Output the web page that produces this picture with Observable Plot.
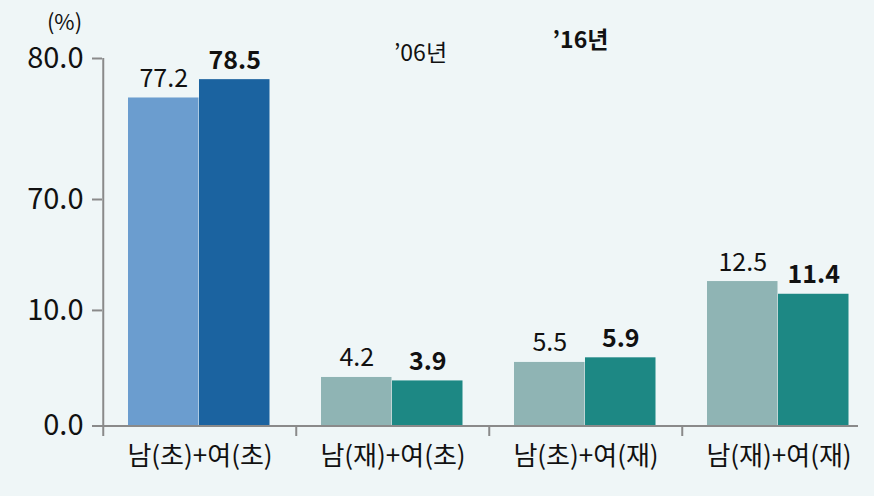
<!DOCTYPE html>
<html><head><meta charset="utf-8">
<script src="https://cdn.jsdelivr.net/npm/d3@7"></script>
<script src="https://cdn.jsdelivr.net/npm/@observablehq/plot@0.6"></script>
<style>
html,body{margin:0;padding:0;background:#eff6f7;}
#chart svg{display:block;}
</style></head><body><div id="chart"></div>
<script>
const categories = ["남(초)+여(초)", "남(재)+여(초)", "남(초)+여(재)", "남(재)+여(재)"];
const years = ["’06년", "’16년"];
const values06 = [77.2, 4.2, 5.5, 12.5];
const values16 = [78.5, 3.9, 5.9, 11.4];
const yTicks = [0, 10, 70, 80];
const unitLabel = "(%)";

const rows06 = categories.map((c, i) => ({category: c, year: years[0], value: values06[i]}));
const rows16 = categories.map((c, i) => ({category: c, year: years[1], value: values16[i]}));

const FONT = "'Noto Sans CJK KR', 'Noto Sans', sans-serif";
const AXIS = "#8a8a8a";
const isFirst = d => d.category === categories[0];
const fill06 = d => isFirst(d) ? "#6b9dcf" : "#8fb4b4";
const fill16 = d => isFirst(d) ? "#1b63a0" : "#1d8884";

const chart = Plot.plot({
  width: 874, height: 496,
  marginTop: 57, marginBottom: 70, marginLeft: 102, marginRight: 16,
  style: {background: "#eff6f7", fontFamily: FONT, color: "#111", overflow: "visible"},
  x: {type: "band", domain: categories, range: [102, 876], padding: 0, label: null},
  y: {type: "linear", domain: [0, 19.6, 70, 80], range: [425.5, 199, 199, 58], label: null},
  color: {type: "identity"},
  marks: [
    Plot.barY(rows06, {x: "category", y: "value", fill: fill06, insetLeft: 25, insetRight: 97.5}),
    Plot.barY(rows16, {x: "category", y: "value", fill: fill16, insetLeft: 96, insetRight: 26.5}),
    Plot.ruleY([0], {stroke: AXIS, strokeWidth: 2}),
    Plot.ruleX([categories[0]], {x: d => d, y1: 0, y2: 80, dx: -96.75, stroke: AXIS, strokeWidth: 2}),
    Plot.axisY({ticks: yTicks, tickFormat: d => d.toFixed(1), tickSize: 10, tickPadding: 9, fontSize: 29, stroke: AXIS, strokeWidth: 2, fill: "#111", label: null}),
    Plot.axisX({tickSize: 10, tickFormat: () => "", dx: -96.75, stroke: AXIS, strokeWidth: 2, label: null}),
    Plot.axisX({tickSize: 0, tickPadding: 20, fontSize: 26, fill: "#111", label: null}),
    Plot.text(rows06, {x: "category", y: "value", text: d => d.value.toFixed(1), dx: -36.25, dy: -19, lineAnchor: "middle", fontSize: 25, fill: "#111"}),
    Plot.text(rows16, {x: "category", y: "value", text: d => d.value.toFixed(1), dx: 34.75, dy: -19, lineAnchor: "middle", fontSize: 25, fontWeight: "bold", fill: "#111"}),
    Plot.text([unitLabel], {frameAnchor: "top-left", dx: -38, dy: -35, lineAnchor: "middle", textAnchor: "middle", fontSize: 22, fill: "#111"}),
    Plot.text([years[0]], {frameAnchor: "top-left", dx: 318, dy: -4, lineAnchor: "middle", textAnchor: "middle", fontSize: 23, fill: "#111"}),
    Plot.text([years[1]], {frameAnchor: "top-left", dx: 478, dy: -17, lineAnchor: "middle", textAnchor: "middle", fontSize: 23, fontWeight: "bold", fill: "#111"})
  ]
});
document.getElementById("chart").append(chart);
</script></body></html>
